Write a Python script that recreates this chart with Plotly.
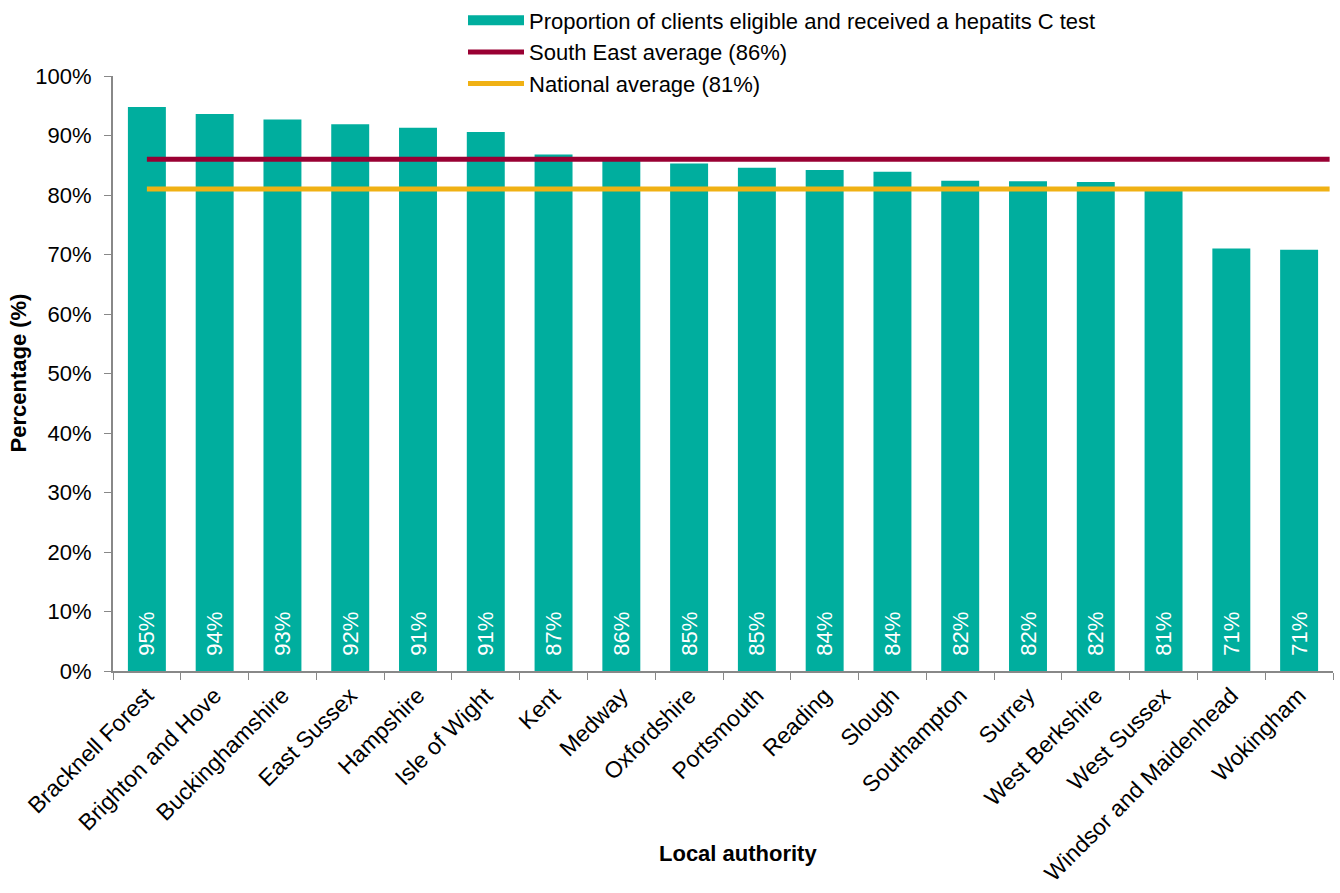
import plotly.graph_objects as go

authorities = [
    "Bracknell Forest", "Brighton and Hove", "Buckinghamshire", "East Sussex",
    "Hampshire", "Isle of Wight", "Kent", "Medway", "Oxfordshire", "Portsmouth",
    "Reading", "Slough", "Southampton", "Surrey", "West Berkshire", "West Sussex",
    "Windsor and Maidenhead", "Wokingham",
]
tested_pct = [94.8, 93.6, 92.7, 91.9, 91.3, 90.6, 86.8, 86.2, 85.3, 84.6,
              84.2, 83.9, 82.4, 82.3, 82.2, 81.2, 71.0, 70.8]
south_east_avg = 86
national_avg = 81

TEAL = "#00AE9E"
MAROON = "#990033"
AMBER = "#F0B114"
AXIS_GREY = "#888888"
FONT = "Liberation Sans, Arial, sans-serif"
FS = 22

W, H = 1340, 893
M_L, M_R, M_T, M_B = 113, 7, 76, 222
plot_w = W - M_L - M_R
plot_h = H - M_T - M_B


def px_x(px):
    """Paper x coordinate for a pixel column."""
    return (px - M_L) / plot_w


def px_y(py):
    """Paper y coordinate for a pixel row (measured from the top)."""
    return (H - M_B - py) / plot_h


bar_name = "Proportion of clients eligible and received a hepatits C test"

fig = go.Figure()

# wide block swatch for the bar series in the legend
fig.add_trace(go.Scatter(
    x=[None], y=[None], mode="lines", name=bar_name,
    line=dict(color=TEAL, width=15), legendgroup="bars",
))

fig.add_trace(go.Bar(
    x=authorities,
    y=tested_pct,
    name=bar_name,
    legendgroup="bars",
    showlegend=False,
    marker=dict(color=TEAL, line=dict(width=0)),
    width=0.56,
    text=[f"\u00a0\u00a0{round(v)}%" for v in tested_pct],
    textposition="inside",
    insidetextanchor="start",
    textangle=-90,
    textfont=dict(color="white", size=FS, family=FONT),
    cliponaxis=False,
))

n = len(authorities)
for label, val, col in [
    (f"South East average ({south_east_avg}%)", south_east_avg, MAROON),
    (f"National average ({national_avg}%)", national_avg, AMBER),
]:
    fig.add_trace(go.Scatter(
        x=[0, n - 0.55],
        y=[val, val],
        mode="lines",
        name=label,
        line=dict(color=col, width=5),
        xaxis="x2",
    ))

fig.update_layout(
    width=W,
    height=H,
    margin=dict(l=M_L, r=M_R, t=M_T, b=M_B, autoexpand=False),
    paper_bgcolor="white",
    plot_bgcolor="white",
    font=dict(family=FONT, size=FS, color="black"),
    showlegend=True,
    legend=dict(
        x=px_x(463), y=px_y(52), xanchor="left", yanchor="middle",
        bgcolor="rgba(0,0,0,0)",
        font=dict(size=FS, family=FONT),
        tracegroupgap=0,
        itemwidth=56,
    ),
    xaxis=dict(
        type="category",
        tickangle=-45,
        tickson="boundaries",
        ticks="outside",
        ticklen=7,
        tickcolor=AXIS_GREY,
        showline=True,
        linecolor=AXIS_GREY,
        linewidth=2,
        showgrid=False,
        tickfont=dict(size=23),
        range=[-0.5, n - 0.5],
    ),
    xaxis2=dict(
        overlaying="x",
        range=[-0.5, n - 0.5],
        visible=False,
    ),
    yaxis=dict(
        range=[0, 100],
        tickvals=list(range(0, 101, 10)),
        ticktext=[f"{v}%" for v in range(0, 101, 10)],
        ticks="outside",
        ticklen=7,
        tickcolor=AXIS_GREY,
        showline=True,
        linecolor=AXIS_GREY,
        linewidth=2,
        showgrid=False,
        zeroline=False,
        tickfont=dict(size=FS),
        ticklabelstandoff=8,
    ),
    annotations=[
        dict(text="<b>Local authority</b>", x=px_x(738), y=px_y(853),
             xref="paper", yref="paper", showarrow=False,
             font=dict(size=FS), yanchor="middle"),
        dict(text="<b>Percentage (%)</b>", x=px_x(18), y=0.5,
             xref="paper", yref="paper", showarrow=False,
             font=dict(size=FS), textangle=-90, xanchor="center"),
    ],
)

fig.write_html("out.html")
